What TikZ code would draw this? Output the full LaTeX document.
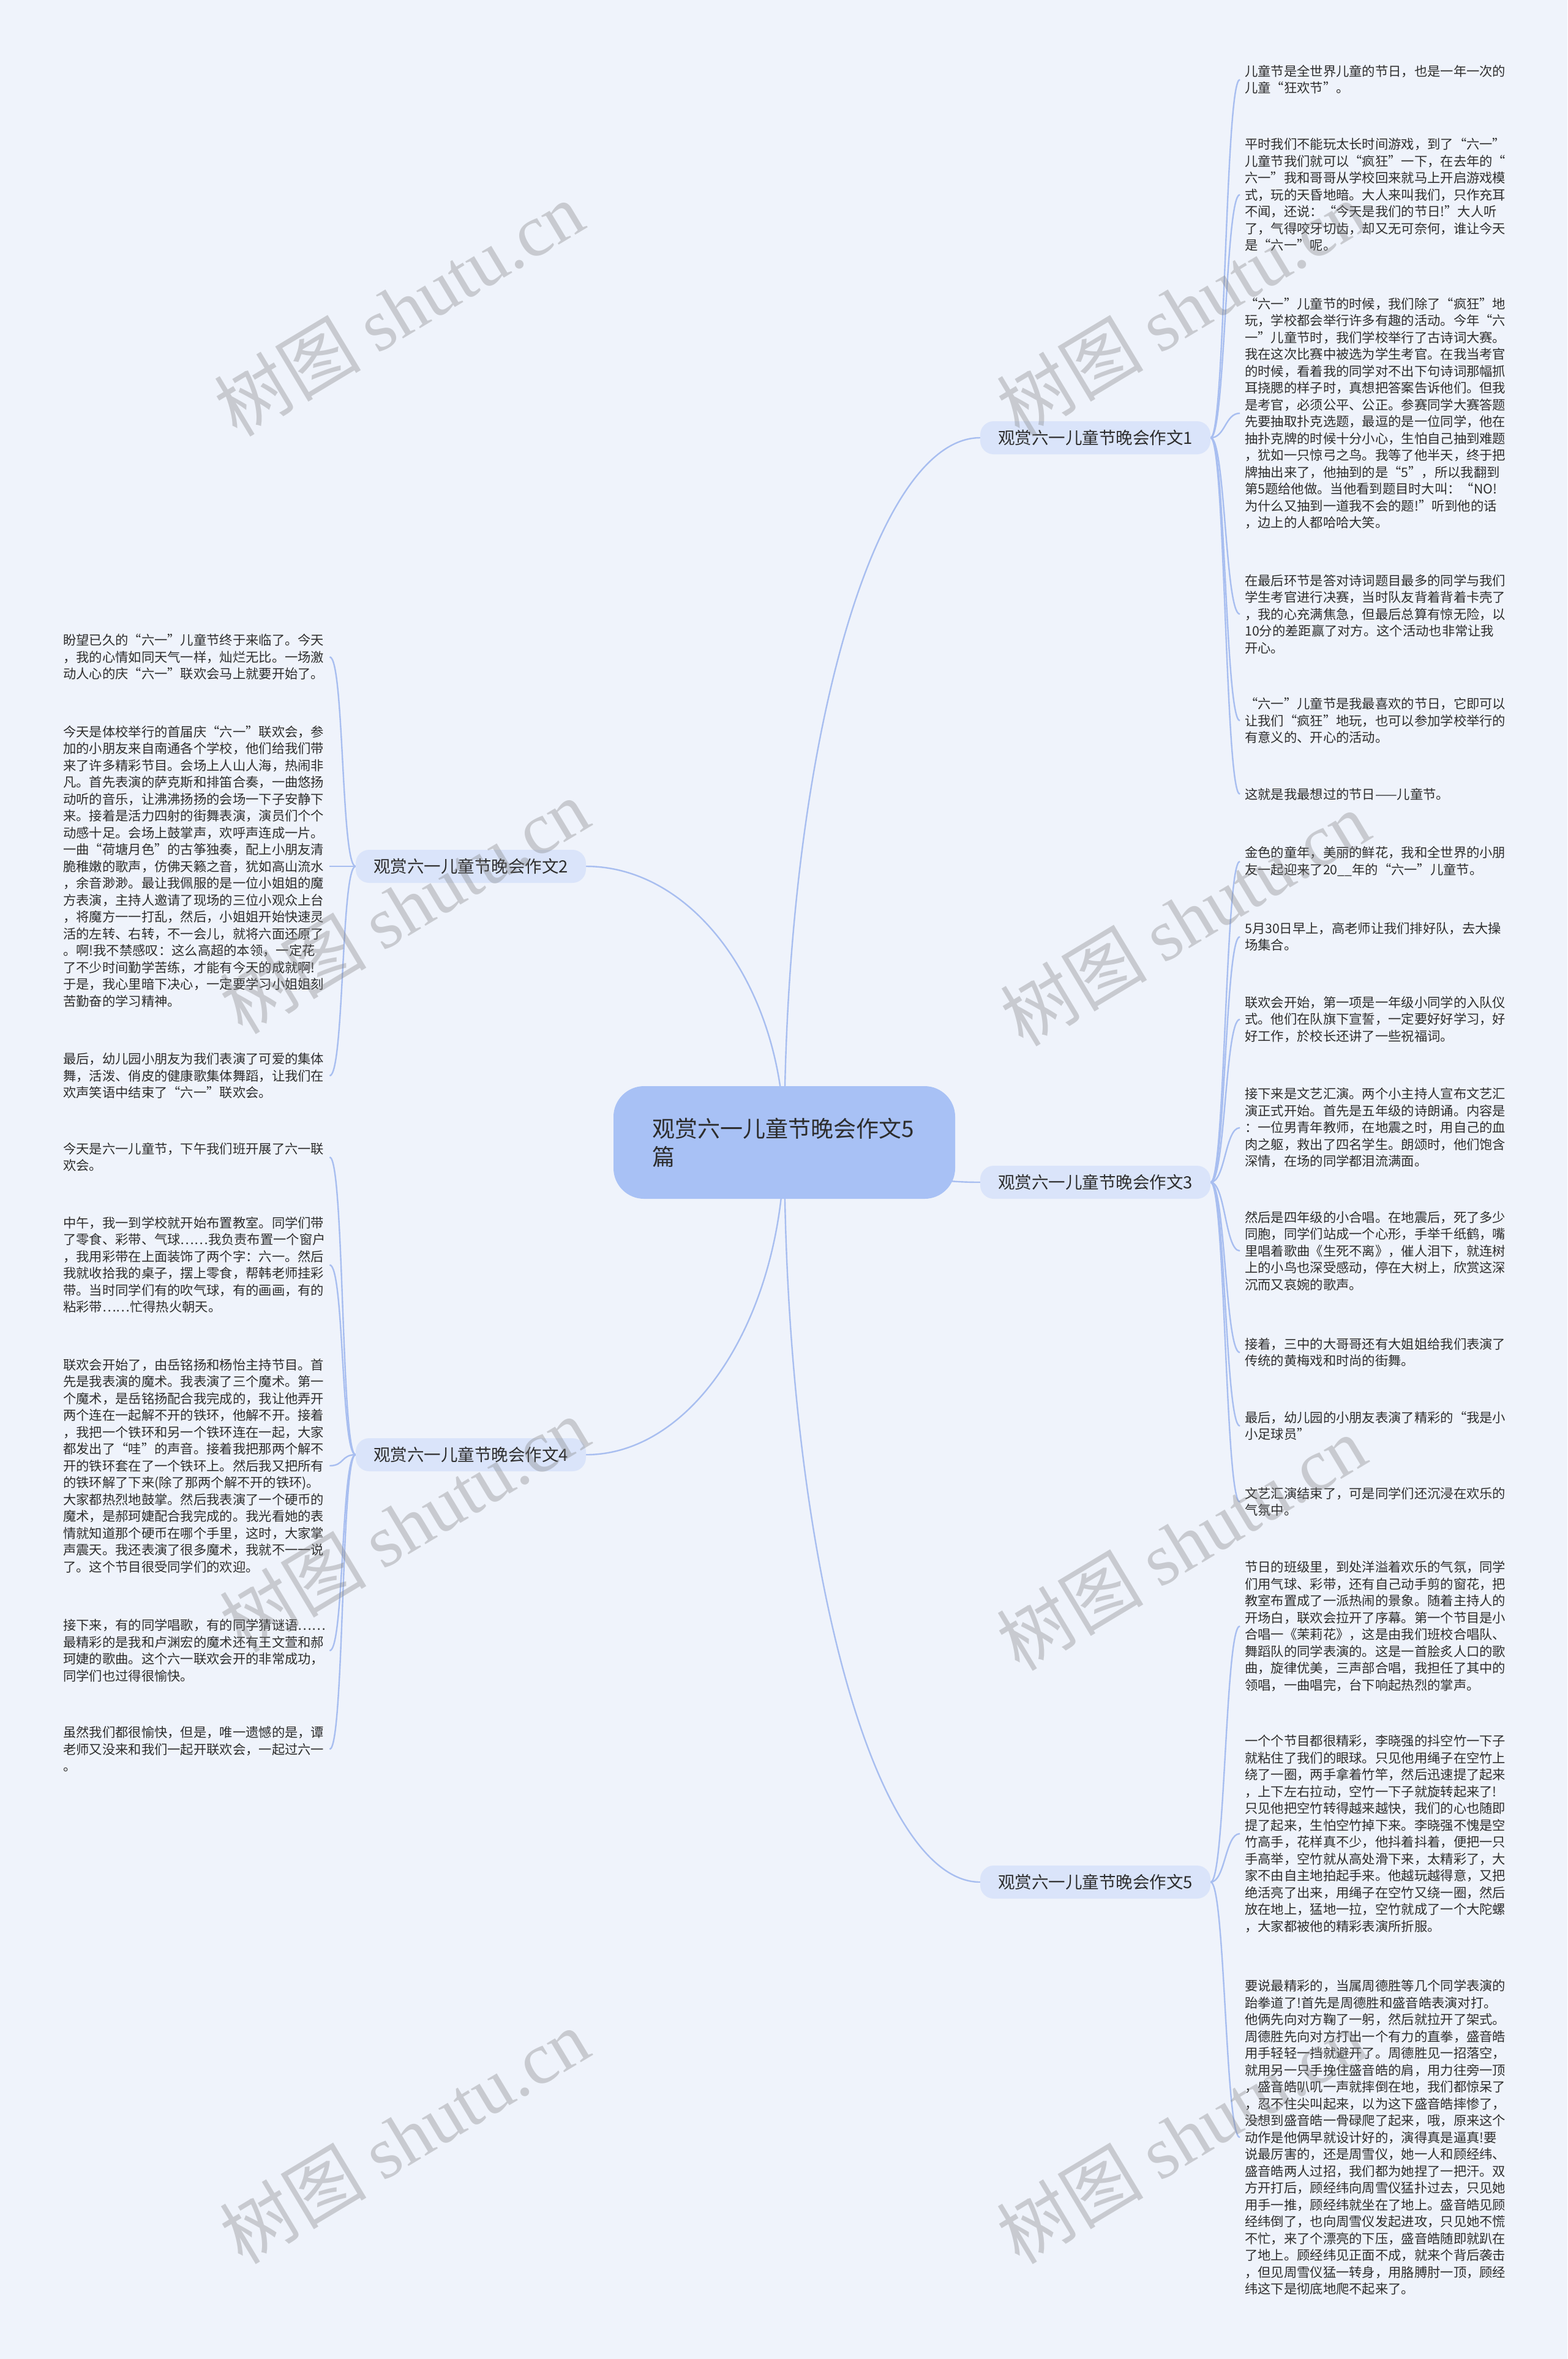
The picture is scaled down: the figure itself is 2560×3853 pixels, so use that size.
\documentclass[tikz,border=0pt]{standalone}
\usepackage{fontspec}
\setmainfont{Noto Sans CJK SC}
\newfontfamily\wmlatin{Liberation Serif}
\newfontfamily\cjkfont{Noto Sans CJK SC}
\definecolor{bgc}{RGB}{239,243,251}
\definecolor{rootfill}{RGB}{168,193,245}
\definecolor{brfill}{RGB}{218,228,250}
\definecolor{linec}{RGB}{168,190,240}
\definecolor{txt}{RGB}{45,45,45}
\pgfdeclarelayer{bgl}
\pgfdeclarelayer{edgel}
\pgfsetlayers{bgl,edgel,main}
\begin{document}
\begin{tikzpicture}[x=1pt,y=-1pt,
  leaf/.style={anchor=west, text width=427pt, align=left, inner xsep=8pt, inner ysep=4pt,
    font=\fontsize{21.3pt}{27.5pt}\selectfont, text=txt},
  branch/.style={fill=brfill, rounded corners=22pt, minimum width=376pt, minimum height=54pt,
    font=\fontsize{27.5pt}{33pt}\selectfont, text=txt},
  rootn/.style={fill=rootfill, rounded corners=50pt, minimum width=558pt, minimum height=184pt,
    text width=432pt, align=left, font=\fontsize{37pt}{46pt}\selectfont, text=txt},
  conn/.style={draw=linec, line width=2.4pt},
  wm/.style={rotate=31, text=gray, opacity=0.35, font=\fontsize{120pt}{130pt}\selectfont}
]
\begin{pgfonlayer}{bgl}
\fill[bgc] (0,0) rectangle (2560,3853);
\end{pgfonlayer}
\useasboundingbox (0,0) rectangle (2560,3853);

% root and branches
\node[rootn] (root) at (1281,1866) {观赏六一儿童节晚会作文5\\篇};
\node[branch] (b1) at (1789,715) {观赏六一儿童节晚会作文1};
\node[branch] (b2) at (769,1415) {观赏六一儿童节晚会作文2};
\node[branch] (b3) at (1789,1931) {观赏六一儿童节晚会作文3};
\node[branch] (b4) at (769,2376) {观赏六一儿童节晚会作文4};
\node[branch] (b5) at (1789,3074) {观赏六一儿童节晚会作文5};

% branch 1 leaves
\node[leaf] (r1a) at (2025,130) {儿童节是全世界儿童的节日，也是一年一次的\\儿童“狂欢节”。};
\node[leaf] (r1b) at (2025,318) {平时我们不能玩太长时间游戏，到了“六一”\\儿童节我们就可以“疯狂”一下，在去年的“\\六一”我和哥哥从学校回来就马上开启游戏模\\式，玩的天昏地暗。大人来叫我们，只作充耳\\不闻，还说：“今天是我们的节日!”大人听\\了，气得咬牙切齿，却又无可奈何，谁让今天\\是“六一”呢。};
\node[leaf] (r1c) at (2025,675) {“六一”儿童节的时候，我们除了“疯狂”地\\玩，学校都会举行许多有趣的活动。今年“六\\一”儿童节时，我们学校举行了古诗词大赛。\\我在这次比赛中被选为学生考官。在我当考官\\的时候，看着我的同学对不出下句诗词那幅抓\\耳挠腮的样子时，真想把答案告诉他们。但我\\是考官，必须公平、公正。参赛同学大赛答题\\先要抽取扑克选题，最逗的是一位同学，他在\\抽扑克牌的时候十分小心，生怕自己抽到难题\\，犹如一只惊弓之鸟。我等了他半天，终于把\\牌抽出来了，他抽到的是“5”，所以我翻到\\第5题给他做。当他看到题目时大叫：“NO!\\为什么又抽到一道我不会的题!”听到他的话\\，边上的人都哈哈大笑。};
\node[leaf] (r1d) at (2025,1003) {在最后环节是答对诗词题目最多的同学与我们\\学生考官进行决赛，当时队友背着背着卡壳了\\，我的心充满焦急，但最后总算有惊无险，以\\10分的差距赢了对方。这个活动也非常让我\\开心。};
\node[leaf] (r1e) at (2025,1177) {“六一”儿童节是我最喜欢的节日，它即可以\\让我们“疯狂”地玩，也可以参加学校举行的\\有意义的、开心的活动。};
\node[leaf] (r1f) at (2025,1297) {这就是我最想过的节日——儿童节。};

% branch 3 leaves
\node[leaf] (r3a) at (2025,1407) {金色的童年，美丽的鲜花，我和全世界的小朋\\友一起迎来了20\_\_年的“六一”儿童节。};
\node[leaf] (r3b) at (2025,1530) {5月30日早上，高老师让我们排好队，去大操\\场集合。};
\node[leaf] (r3c) at (2025,1665) {联欢会开始，第一项是一年级小同学的入队仪\\式。他们在队旗下宣誓，一定要好好学习，好\\好工作，於校长还讲了一些祝福词。};
\node[leaf] (r3d) at (2025,1842) {接下来是文艺汇演。两个小主持人宣布文艺汇\\演正式开始。首先是五年级的诗朗诵。内容是\\：一位男青年教师，在地震之时，用自己的血\\肉之躯，救出了四名学生。朗颂时，他们饱含\\深情，在场的同学都泪流满面。};
\node[leaf] (r3e) at (2025,2043) {然后是四年级的小合唱。在地震后，死了多少\\同胞，同学们站成一个心形，手举千纸鹤，嘴\\里唱着歌曲《生死不离》，催人泪下，就连树\\上的小鸟也深受感动，停在大树上，欣赏这深\\沉而又哀婉的歌声。};
\node[leaf] (r3f) at (2025,2209) {接着，三中的大哥哥还有大姐姐给我们表演了\\传统的黄梅戏和时尚的街舞。};
\node[leaf] (r3g) at (2025,2329) {最后，幼儿园的小朋友表演了精彩的“我是小\\小足球员”};
\node[leaf] (r3h) at (2025,2453) {文艺汇演结束了，可是同学们还沉浸在欢乐的\\气氛中。};

% branch 5 leaves
\node[leaf] (r5a) at (2025,2656) {节日的班级里，到处洋溢着欢乐的气氛，同学\\们用气球、彩带，还有自己动手剪的窗花，把\\教室布置成了一派热闹的景象。随着主持人的\\开场白，联欢会拉开了序幕。第一个节目是小\\合唱一《茉莉花》，这是由我们班校合唱队、\\舞蹈队的同学表演的。这是一首脍炙人口的歌\\曲，旋律优美，三声部合唱，我担任了其中的\\领唱，一曲唱完，台下响起热烈的掌声。};
\node[leaf] (r5b) at (2025,2995) {一个个节目都很精彩，李晓强的抖空竹一下子\\就粘住了我们的眼球。只见他用绳子在空竹上\\绕了一圈，两手拿着竹竿，然后迅速提了起来\\，上下左右拉动，空竹一下子就旋转起来了!\\只见他把空竹转得越来越快，我们的心也随即\\提了起来，生怕空竹掉下来。李晓强不愧是空\\竹高手，花样真不少，他抖着抖着，便把一只\\手高举，空竹就从高处滑下来，太精彩了，大\\家不由自主地拍起手来。他越玩越得意，又把\\绝活亮了出来，用绳子在空竹又绕一圈，然后\\放在地上，猛地一拉，空竹就成了一个大陀螺\\，大家都被他的精彩表演所折服。};
\node[leaf] (r5c) at (2025,3491) {要说最精彩的，当属周德胜等几个同学表演的\\跆拳道了!首先是周德胜和盛音皓表演对打。\\他俩先向对方鞠了一躬，然后就拉开了架式。\\周德胜先向对方打出一个有力的直拳，盛音皓\\用手轻轻一挡就避开了。周德胜见一招落空，\\就用另一只手挽住盛音皓的肩，用力往旁一顶\\，盛音皓叭叽一声就摔倒在地，我们都惊呆了\\，忍不住尖叫起来，以为这下盛音皓摔惨了，\\没想到盛音皓一骨碌爬了起来，哦，原来这个\\动作是他俩早就设计好的，演得真是逼真!要\\说最厉害的，还是周雪仪，她一人和顾经纬、\\盛音皓两人过招，我们都为她捏了一把汗。双\\方开打后，顾经纬向周雪仪猛扑过去，只见她\\用手一推，顾经纬就坐在了地上。盛音皓见顾\\经纬倒了，也向周雪仪发起进攻，只见她不慌\\不忙，来了个漂亮的下压，盛音皓随即就趴在\\了地上。顾经纬见正面不成，就来个背后袭击\\，但见周雪仪猛一转身，用胳膊肘一顶，顾经\\纬这下是彻底地爬不起来了。};

% branch 2 leaves
\node[leaf] (l2a) at (95,1073) {盼望已久的“六一”儿童节终于来临了。今天\\，我的心情如同天气一样，灿烂无比。一场激\\动人心的庆“六一”联欢会马上就要开始了。};
\node[leaf] (l2b) at (95,1415) {今天是体校举行的首届庆“六一”联欢会，参\\加的小朋友来自南通各个学校，他们给我们带\\来了许多精彩节目。会场上人山人海，热闹非\\凡。首先表演的萨克斯和排笛合奏，一曲悠扬\\动听的音乐，让沸沸扬扬的会场一下子安静下\\来。接着是活力四射的街舞表演，演员们个个\\动感十足。会场上鼓掌声，欢呼声连成一片。\\一曲“荷塘月色”的古筝独奏，配上小朋友清\\脆稚嫩的歌声，仿佛天籁之音，犹如高山流水\\，余音渺渺。最让我佩服的是一位小姐姐的魔\\方表演，主持人邀请了现场的三位小观众上台\\，将魔方一一打乱，然后，小姐姐开始快速灵\\活的左转、右转，不一会儿，就将六面还原了\\。啊!我不禁感叹：这么高超的本领，一定花\\了不少时间勤学苦练，才能有今天的成就啊!\\于是，我心里暗下决心，一定要学习小姐姐刻\\苦勤奋的学习精神。};
\node[leaf] (l2c) at (95,1757) {最后，幼儿园小朋友为我们表演了可爱的集体\\舞，活泼、俏皮的健康歌集体舞蹈，让我们在\\欢声笑语中结束了“六一”联欢会。};

% branch 4 leaves
\node[leaf] (l4a) at (95,1890) {今天是六一儿童节，下午我们班开展了六一联\\欢会。};
\node[leaf] (l4b) at (95,2066) {中午，我一到学校就开始布置教室。同学们带\\了零食、彩带、气球……我负责布置一个窗户\\，我用彩带在上面装饰了两个字：六一。然后\\我就收拾我的桌子，摆上零食，帮韩老师挂彩\\带。当时同学们有的吹气球，有的画画，有的\\粘彩带……忙得热火朝天。};
\node[leaf] (l4c) at (95,2394) {联欢会开始了，由岳铭扬和杨怡主持节目。首\\先是我表演的魔术。我表演了三个魔术。第一\\个魔术，是岳铭扬配合我完成的，我让他弄开\\两个连在一起解不开的铁环，他解不开。接着\\，我把一个铁环和另一个铁环连在一起，大家\\都发出了“哇”的声音。接着我把那两个解不\\开的铁环套在了一个铁环上。然后我又把所有\\的铁环解了下来(除了那两个解不开的铁环)。\\大家都热烈地鼓掌。然后我表演了一个硬币的\\魔术，是郝珂婕配合我完成的。我光看她的表\\情就知道那个硬币在哪个手里，这时，大家掌\\声震天。我还表演了很多魔术，我就不一一说\\了。这个节目很受同学们的欢迎。};
\node[leaf] (l4d) at (95,2696) {接下来，有的同学唱歌，有的同学猜谜语……\\最精彩的是我和卢渊宏的魔术还有王文萱和郝\\珂婕的歌曲。这个六一联欢会开的非常成功，\\同学们也过得很愉快。};
\node[leaf] (l4e) at (95,2857) {虽然我们都很愉快，但是，唯一遗憾的是，谭\\老师又没来和我们一起开联欢会，一起过六一\\。};

% connectors
\begin{pgfonlayer}{edgel}
\draw[conn] (root.center) .. controls +(0,-633) and +(-176,0) .. (b1.west);
\draw[conn] (root.center) .. controls +(0,-248) and +(178,0) .. (b2.east);
\draw[conn] (root.center) .. controls +(150,0) and +(-176,0) .. (b3.west);
\draw[conn] (root.center) .. controls +(0,280) and +(178,0) .. (b4.east);
\draw[conn] (root.center) .. controls +(0,664) and +(-176,0) .. (b5.west);
\foreach \b/\l in {b1/r1a,b1/r1b,b1/r1c,b1/r1d,b1/r1e,b1/r1f,
  b3/r3a,b3/r3b,b3/r3c,b3/r3d,b3/r3e,b3/r3f,b3/r3g,b3/r3h,
  b5/r5a,b5/r5b,b5/r5c}
  \draw[conn] (\b.east) .. controls +(24,0) and +(-24,0) .. (\l.west);
\foreach \b/\l in {b2/l2a,b2/l2b,b2/l2c,b4/l4a,b4/l4b,b4/l4c,b4/l4d,b4/l4e}
  \draw[conn] (\b.west) .. controls +(-24,0) and +(24,0) .. (\l.east);
\end{pgfonlayer}

% watermarks
\node[wm] (wm1) at (651,504) {{\cjkfont 树图} {\wmlatin shutu.cn}};
\node[wm] (wm2) at (1929,504) {{\cjkfont 树图} {\wmlatin shutu.cn}};
\node[wm] (wm3) at (660,1480) {{\cjkfont 树图} {\wmlatin shutu.cn}};
\node[wm] (wm4) at (1935,1500) {{\cjkfont 树图} {\wmlatin shutu.cn}};
\node[wm] (wm5) at (660,2490) {{\cjkfont 树图} {\wmlatin shutu.cn}};
\node[wm] (wm6) at (1929,2520) {{\cjkfont 树图} {\wmlatin shutu.cn}};
\node[wm] (wm7) at (660,3489) {{\cjkfont 树图} {\wmlatin shutu.cn}};
\node[wm] (wm8) at (1929,3489) {{\cjkfont 树图} {\wmlatin shutu.cn}};
\end{tikzpicture}
\end{document}
